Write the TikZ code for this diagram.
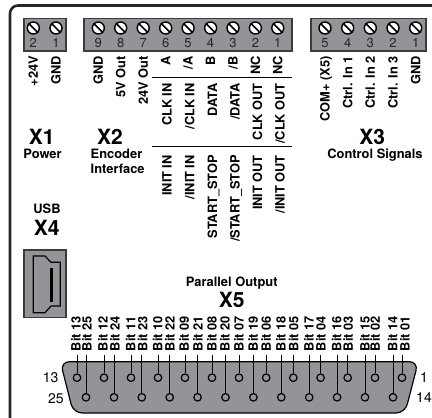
\documentclass[tikz,border=0pt]{standalone}
\usepackage{fontspec}
\setmainfont{TeX Gyre Heros}
\definecolor{blockgrey}{HTML}{939497}
\definecolor{edgegrey}{HTML}{3C3C3E}

\begin{document}
\begin{tikzpicture}[
            x = 1pt, y = -1pt,
            every node/.style={inner sep=0pt, text depth=0pt},
            line/.style={line width = 2.6pt, color=black!85, line cap=butt},
            block/.style={draw=edgegrey, fill=blockgrey, line width = 1.5pt},
            screw/.style={circle, draw=black, fill=white, line width = 1.4pt, minimum size = 12pt},
            slash/.style={line width = 1.6pt},
            digit/.style={font=\fontsize{13}{14}\selectfont, text=black!85},
            pinlabel/.style={rotate=90, anchor=east, text height=9.2pt, font=\bfseries\fontsize{12.8}{14}\selectfont},
            title/.style={font=\bfseries\fontsize{21}{24}\selectfont},
            caption/.style={font=\bfseries\fontsize{12.9}{14.4}\selectfont, align=left},
            hole/.style={circle, draw=black, fill=blockgrey, line width = 1.2pt, minimum size = 7.5pt},
            wire/.style={line width = 1pt},
            outer/.style={font=\fontsize{14}{16}\selectfont},
            ]

        \useasboundingbox (0, 0) rectangle (432, 418);

        % frame
        \draw[line, rounded corners=8pt] (10, 418) -- (10, 5.5) -- (432, 5.5);

        % terminal blocks
        \draw[block] (24, 18.5) rectangle (66, 51);
        \draw[block] (84, 18.5) rectangle (292, 51);
        \draw[block] (311, 18.5) rectangle (426, 51);

        % X1
        \foreach \i/\x/\t in {2/33.3/+24V, 1/56/GND} {
            \node[screw] (xa\i) at (\x, 28) {};
            \draw[slash] (xa\i.north west) -- (xa\i.south east);
            \node[digit] (xad\i) at (\x, 43) {\i};
            \node[pinlabel] (xal\i) at (\x, 56) {\t};
        }

        % X2
        \foreach \i/\x/\t in {9/98.3/GND, 8/120.7/5V Out, 7/143.2/24V Out, 6/165.7/A, 5/188.1/{/A},
                              4/210.6/B, 3/233/{/B}, 2/255.4/NC, 1/277.8/NC} {
            \node[screw] (xb\i) at (\x, 28) {};
            \draw[slash] (xb\i.north west) -- (xb\i.south east);
            \node[digit] (xbd\i) at (\x, 43) {\i};
            \node[pinlabel] (xbl\i) at (\x, 56) {\t};
        }
        \coordinate (ruleaw) at (152.3, 77.3);
        \coordinate (ruleae) at (292, 77.3);
        \coordinate (rulebw) at (152.3, 146.7);
        \coordinate (rulebe) at (292, 146.7);
        \draw[wire] (ruleaw) -- (ruleae);
        \draw[wire] (rulebw) -- (rulebe);
        \foreach \n/\x/\t/\u in {a/167/CLK IN/INIT IN, b/189.7/{/CLK IN}/{/INIT IN}, c/212.4/DATA/START\_STOP,
                                 d/235/{/DATA}/{/START\_STOP}, e/257.6/CLK OUT/INIT OUT, f/280/{/CLK OUT}/{/INIT OUT}} {
            \node[pinlabel] (mid\n) at (\x, 83) {\t};
            \node[pinlabel] (low\n) at (\x, 155) {\u};
        }

        % X3
        \foreach \i/\x/\t in {5/325/COM+ (X5), 4/347.7/Ctrl. In 1, 3/370.3/Ctrl. In 2, 2/393/Ctrl. In 3, 1/415.7/GND} {
            \node[screw] (xc\i) at (\x, 28) {};
            \draw[slash] (xc\i.north west) -- (xc\i.south east);
            \node[digit] (xcd\i) at (\x, 43) {\i};
            \node[pinlabel] (xcl\i) at (\x, 56) {\t};
        }

        % titles
        \node[title] (x1) at (41.7, 136.7) {X1};
        \node[caption] (power) at (42.5, 154) {Power};
        \node[title] (x2) at (110, 136.7) {X2};
        \node[caption, anchor=north west] (encoder) at (90.5, 149.3) {Encoder\\Interface};
        \node[title] (x3) at (372.3, 136.7) {X3};
        \node[caption] (control) at (375, 153.7) {Control Signals};
        \node[caption] (usb) at (47, 208.3) {USB};
        \node[title] (x4) at (46.7, 228.3) {X4};
        \node[caption] (parallel) at (231.7, 281.7) {Parallel Output};
        \node[title] (x5) at (231.7, 300) {X5};

        % USB socket
        \draw[block] (24, 250) rectangle (66, 317.7);
        \draw[line width = 1.2pt] (33.3, 256) -- (45, 256) -- (51, 262.3) -- (60.3, 262.3) -- (60.3, 306)
            -- (51, 306) -- (45, 312.7) -- (33.3, 312.7) -- cycle;
        \fill (50, 267.7) rectangle (53, 301.7);

        % parallel connector
        \draw[fill=blockgrey, line width = 1.2pt, rounded corners=9pt]
            (60.4, 361.7) -- (418.3, 361.7) -- (405, 413) -- (73.3, 413) -- cycle;
        \foreach \n/\x/\l in {13/77/76, 12/104/103, 11/131/130.7, 10/158/157.7, 09/185/184.3, 08/212/212, 07/239/239,
                              06/266.2/266.3, 05/293.3/293.7, 04/320.6/321, 03/347.7/348.3, 02/375/375.3, 01/402/405} {
            \node[hole] (p\n) at (\x, 377.7) {};
            \coordinate (w\n) at (\x, 355);
            \draw[wire] (w\n) -- (p\n);
            \node[pinlabel] (b\n) at (\l, 316) {Bit \n};
        }
        \foreach \n/\x/\l in {25/86/87, 24/114/115, 23/141.8/142.7, 22/169.7/170, 21/197.6/198, 20/225.5/225,
                              19/253.4/253.3, 18/281.3/281, 17/309.2/309, 16/337.1/336.7, 15/365/365, 14/393/392.7} {
            \node[hole] (p\n) at (\x, 397.3) {};
            \coordinate (w\n) at (\x, 355);
            \draw[wire] (w\n) -- (p\n);
            \node[pinlabel] (b\n) at (\l, 316) {Bit \n};
        }

        % pin numbers
        \node[outer] (n13) at (50.7, 377.7) {13};
        \node[outer] (n25) at (56, 398.3) {25};
        \node[outer] (n1) at (424, 377.3) {1};
        \node[outer] (n14) at (424, 397.3) {14};
    \end{tikzpicture}
\end{document}
